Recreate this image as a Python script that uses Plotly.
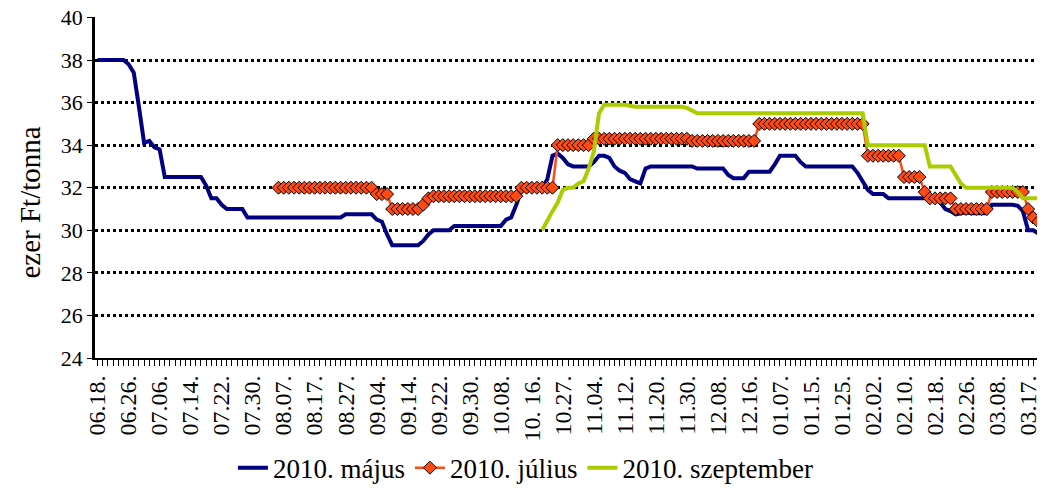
import plotly.graph_objects as go

# tick labels: one label every 6 trading days
labels = ["06.18.", "06.26.", "07.06.", "07.14.", "07.22.", "07.30.", "08.07.", "08.17.",
          "08.27.", "09.04.", "09.14.", "09.22.", "09.30.", "10.08.", "10. 16.", "10.27.",
          "11.04.", "11.12.", "11.20.", "11.30.", "12.08.", "12.16.", "01.07.", "01.15.",
          "01.25.", "02.02.", "02.10.", "02.18.", "02.26.", "03.08.", "03.17."]

# ezer Ft/tonna, one value per trading day
majus = [
    38.0, 38.0, 38.0, 38.0, 38.0, 38.0, 37.8, 37.4, 35.8, 34.1,
    34.2, 33.9, 33.8, 32.5, 32.5, 32.5, 32.5, 32.5, 32.5, 32.5,
    32.5, 32.1, 31.5, 31.5, 31.2, 31.0, 31.0, 31.0, 31.0, 30.6,
    30.6, 30.6, 30.6, 30.6, 30.6, 30.6, 30.6, 30.6, 30.6, 30.6,
    30.6, 30.6, 30.6, 30.6, 30.6, 30.6, 30.6, 30.6, 30.75, 30.75,
    30.75, 30.75, 30.75, 30.75, 30.5, 30.4, 29.8, 29.3, 29.3, 29.3,
    29.3, 29.3, 29.3, 29.5, 29.8, 30.0, 30.0, 30.0, 30.0, 30.2,
    30.2, 30.2, 30.2, 30.2, 30.2, 30.2, 30.2, 30.2, 30.2, 30.5,
    30.6, 31.2, 31.9, 32.0, 32.0, 32.0, 32.0, 32.4, 33.5, 33.6,
    33.4, 33.1, 33.0, 33.0, 33.0, 33.0, 33.2, 33.5, 33.5, 33.4,
    33.0, 32.8, 32.7, 32.4, 32.3, 32.2, 32.9, 33.0, 33.0, 33.0,
    33.0, 33.0, 33.0, 33.0, 33.0, 33.0, 32.9, 32.9, 32.9, 32.9,
    32.9, 32.9, 32.6, 32.45, 32.45, 32.45, 32.75, 32.75, 32.75, 32.75,
    32.75, 33.1, 33.5, 33.5, 33.5, 33.5, 33.2, 33.0, 33.0, 33.0,
    33.0, 33.0, 33.0, 33.0, 33.0, 33.0, 33.0, 32.7, 32.3, 31.9,
    31.7, 31.7, 31.7, 31.5, 31.5, 31.5, 31.5, 31.5, 31.5, 31.5,
    31.5, 31.5, 31.5, 31.3, 31.0, 30.9, 30.75, 30.8, 30.85, 30.8,
    30.8, 30.8, 30.8, 31.2, 31.2, 31.2, 31.2, 31.2, 31.15, 30.9,
    30.0, 30.0, 29.85,
]

julius = [None] * 35 + [
    32.0, 32.0, 32.0, 32.0, 32.0,
    32.0, 32.0, 32.0, 32.0, 32.0, 32.0, 32.0, 32.0, 32.0, 32.0,
    32.0, 32.0, 32.0, 32.0, 31.7, 31.7, 31.7, 31.0, 31.0, 31.0,
    31.0, 31.0, 31.0, 31.2, 31.5, 31.6, 31.6, 31.6, 31.6, 31.6,
    31.6, 31.6, 31.6, 31.6, 31.6, 31.6, 31.6, 31.6, 31.6, 31.6,
    31.6, 31.6, 32.0, 32.0, 32.0, 32.0, 32.0, 32.0, 32.0, 34.0,
    34.0, 34.0, 34.0, 34.0, 34.0, 34.0, 34.3, 34.3, 34.3, 34.3,
    34.3, 34.3, 34.3, 34.3, 34.3, 34.3, 34.3, 34.3, 34.3, 34.3,
    34.3, 34.3, 34.3, 34.3, 34.3, 34.2, 34.2, 34.2, 34.2, 34.2,
    34.2, 34.2, 34.2, 34.2, 34.2, 34.2, 34.2, 34.2, 35.0, 35.0,
    35.0, 35.0, 35.0, 35.0, 35.0, 35.0, 35.0, 35.0, 35.0, 35.0,
    35.0, 35.0, 35.0, 35.0, 35.0, 35.0, 35.0, 35.0, 35.0, 33.5,
    33.5, 33.5, 33.5, 33.5, 33.5, 33.5, 32.5, 32.5, 32.5, 32.5,
    31.8, 31.5, 31.5, 31.5, 31.5, 31.5, 31.0, 31.0, 31.0, 31.0,
    31.0, 31.0, 31.0, 31.8, 31.8, 31.8, 31.8, 31.8, 31.8, 31.8,
    31.0, 30.6, 30.4,
]

szeptember = [None] * 86 + [
    30.0, 30.5, 30.9, 31.3,
    31.9, 32.0, 32.0, 32.2, 32.3, 32.9, 33.7, 35.5, 35.9, 35.9,
    35.9, 35.9, 35.9, 35.85, 35.8, 35.8, 35.8, 35.8, 35.8, 35.8,
    35.8, 35.8, 35.8, 35.8, 35.75, 35.6, 35.5, 35.5, 35.5, 35.5,
    35.5, 35.5, 35.5, 35.5, 35.5, 35.5, 35.5, 35.5, 35.5, 35.5,
    35.5, 35.5, 35.5, 35.5, 35.5, 35.5, 35.5, 35.5, 35.5, 35.5,
    35.5, 35.5, 35.5, 35.5, 35.5, 35.5, 35.5, 35.5, 35.5, 34.0,
    34.0, 34.0, 34.0, 34.0, 34.0, 34.0, 34.0, 34.0, 34.0, 34.0,
    34.0, 33.0, 33.0, 33.0, 33.0, 33.0, 32.6, 32.2, 32.0, 32.0,
    32.0, 32.0, 32.0, 32.0, 32.0, 32.0, 32.0, 32.0, 31.8, 31.5,
    31.5, 31.5, 31.5,
]

n = len(majus)
days = list(range(n))
ticktext = [labels[i // 6] if i % 6 == 0 else "" for i in days]
yticks = [24, 26, 28, 30, 32, 34, 36, 38, 40]

font = "Liberation Serif"
fig = go.Figure()

fig.add_trace(go.Scatter(
    x=days, y=majus, name="2010. május", mode="lines",
    line=dict(color="#000080", width=4)))

fig.add_trace(go.Scatter(
    x=days, y=julius, name="2010. július", mode="lines+markers",
    line=dict(color="#FF4A14", width=2.5),
    marker=dict(symbol="diamond", size=10, color="#FF4A14",
                line=dict(color="black", width=1))))

fig.add_trace(go.Scatter(
    x=days, y=szeptember, name="2010. szeptember", mode="lines",
    line=dict(color="#AACC00", width=4)))

# page body adds 8px at the top/left; the bottom of the figure runs past the window
fig.update_layout(
    width=1037, height=491,
    margin=dict(l=87, r=4, t=9, b=141),
    plot_bgcolor="white", paper_bgcolor="white",
    font=dict(family=font, size=24, color="black"),
    showlegend=True,
    legend=dict(orientation="h", x=0.455, xanchor="center", y=-0.323,
                yanchor="middle", font=dict(size=27), itemwidth=30,
                tracegroupgap=0))

# y title as an annotation so it can sit further left
fig.add_annotation(
    text="ezer Ft/tonna", textangle=-90, xref="paper", yref="paper",
    x=-0.069, y=0.455, xanchor="center", yanchor="middle", showarrow=False,
    font=dict(size=29))

fig.update_xaxes(
    range=[-0.5, n - 0.5], tickmode="array", tickvals=days, ticktext=ticktext,
    tickangle=-90, ticks="outside", ticklen=6, tickwidth=1, tickcolor="black",
    showgrid=False, showline=True, linecolor="black", linewidth=2,
    zeroline=False, tickfont=dict(size=24))

fig.update_yaxes(
    range=[24, 40.02], tickmode="array", tickvals=yticks, ticks="outside",
    ticklen=5, tickwidth=1, automargin=False, ticklabeloverflow="allow",
    tickcolor="black", showline=True, linecolor="black", linewidth=2.5,
    showgrid=True, gridcolor="black", gridwidth=2.5, griddash="3px,3px",
    zeroline=False, tickfont=dict(size=22))

fig.write_html("out.html")
